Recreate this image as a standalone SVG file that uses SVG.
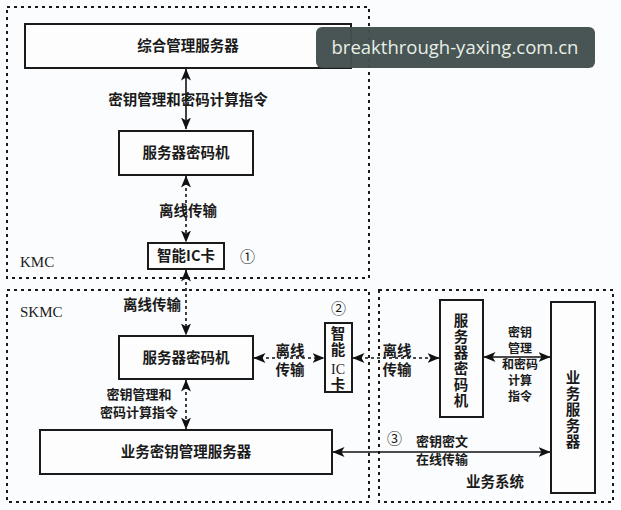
<svg xmlns="http://www.w3.org/2000/svg" width="621" height="510" viewBox="0 0 621 510">
<defs>
<marker id="ah" viewBox="0 0 12 10" refX="11.5" refY="5" markerWidth="12" markerHeight="10" markerUnits="userSpaceOnUse" orient="auto-start-reverse">
<path d="M0,0 L12,5 L0,10 L3,5 Z" fill="#111"/>
</marker>
</defs>
<style>
.bg{fill:#fbfcfd}
.box{fill:#fdfdfd;stroke:#1a1a1a;stroke-width:2}
.zone{fill:none;stroke:#1a1a1a;stroke-width:2;stroke-dasharray:3 4}
.t{font-family:"Noto Sans CJK SC","Liberation Serif",serif;font-size:14.5px;font-weight:bold;fill:#1a1a1a;text-anchor:middle}
.v{writing-mode:vertical-rl;letter-spacing:1.5px}
.lt{font-family:"Liberation Serif","Noto Sans CJK SC",serif;font-size:15px;fill:#1a1a1a}
.solid{fill:none;stroke:#111;stroke-width:1.6;marker-start:url(#ah);marker-end:url(#ah)}
.dash{fill:none;stroke:#111;stroke-width:1.6;stroke-dasharray:3 3;marker-start:url(#ah);marker-end:url(#ah)}
</style>
<rect class="bg" x="0" y="0" width="621" height="510"/>
<g id="zones">
<rect class="zone" x="7" y="7" width="362" height="271"/>
<rect class="zone" x="7" y="290" width="362" height="212"/>
<rect class="zone" x="379" y="290" width="234" height="212"/>
<text class="lt" x="20" y="267">KMC</text>
<text class="lt" x="20" y="317">SKMC</text>
<text class="t" x="495" y="487">业务系统</text>
</g>
<g id="connectors">
<line class="solid" x1="186" y1="69" x2="186" y2="129"/>
<line class="dash" x1="186" y1="176" x2="186" y2="242"/>
<line class="dash" x1="186" y1="270" x2="186" y2="335"/>
<line class="dash" x1="254" y1="358" x2="324" y2="358"/>
<line class="dash" x1="353" y1="358" x2="439" y2="358"/>
<line class="solid" x1="484" y1="357" x2="550" y2="357"/>
<line class="dash" x1="186" y1="380" x2="186" y2="429"/>
<line class="solid" x1="333" y1="452" x2="550" y2="452"/>
<text class="t" x="188" y="105">密钥管理和密码计算指令</text>
<text class="t" x="188" y="216">离线传输</text>
<text class="t" x="152" y="310">离线传输</text>
<text class="t" x="290" y="356">离线<tspan x="290" dy="19">传输</tspan></text>
<text class="t" x="397" y="356">离线<tspan x="397" dy="19">传输</tspan></text>
<text class="t" x="520" y="337" style="font-size:12px">密钥<tspan x="520" dy="16">管理</tspan><tspan x="520" dy="16">和密码</tspan><tspan x="520" dy="16">计算</tspan><tspan x="520" dy="16">指令</tspan></text>
<text class="t" x="139" y="399" style="font-size:13px">密钥管理和<tspan x="139" dy="18">密码计算指令</tspan></text>
<text class="t" x="442" y="446" style="font-size:13px">密钥密文<tspan x="442" dy="18">在线传输</tspan></text>
<text class="lt" x="387" y="444">③</text>
</g>
<g id="n-zhgl">
<rect class="box" x="25" y="24" width="326" height="44"/>
<text class="t" x="188" y="51">综合管理服务器</text>
</g>
<g id="n-kmc-mima">
<rect class="box" x="119" y="131" width="134" height="44"/>
<text class="t" x="186" y="158">服务器密码机</text>
</g>
<g id="n-ic1">
<rect class="box" x="148" y="243" width="76" height="26"/>
<text class="t" x="186" y="261">智能IC卡</text>
<text class="lt" x="240" y="262">①</text>
</g>
<g id="n-skmc-mima">
<rect class="box" x="119" y="336" width="134" height="43"/>
<text class="t" x="186" y="363">服务器密码机</text>
</g>
<g id="n-ic2">
<rect class="box" x="325" y="323" width="27" height="69"/>
<text class="t v" x="338" y="326" style="text-anchor:start">智能</text>
<text class="t" x="338" y="374" style="font-family:'Liberation Serif',serif;font-weight:normal;font-size:14px">IC</text>
<text class="t v" x="338" y="377" style="text-anchor:start">卡</text>
<text class="lt" x="331" y="314">②</text>
</g>
<g id="n-ywmy">
<rect class="box" x="40" y="430" width="292" height="44"/>
<text class="t" x="186" y="457">业务密钥管理服务器</text>
</g>
<g id="n-yw-mima">
<rect class="box" x="440" y="300" width="43" height="117"/>
<text class="t v" x="461" y="313" style="text-anchor:start">服务器密码机</text>
</g>
<g id="n-ywfw">
<rect class="box" x="551" y="302" width="44" height="191"/>
<text class="t v" x="573" y="370" style="text-anchor:start">业务服务器</text>
</g>
<g id="watermark">
<rect x="316" y="27" width="279" height="41" rx="6" fill="#434e4e" fill-opacity="0.97"/>
<text x="455" y="54" style="font-family:'Open Sans','Noto Sans',sans-serif;font-size:18.5px;fill:#e6efe6;text-anchor:middle">breakthrough-yaxing.com.cn</text>
</g>
</svg>
